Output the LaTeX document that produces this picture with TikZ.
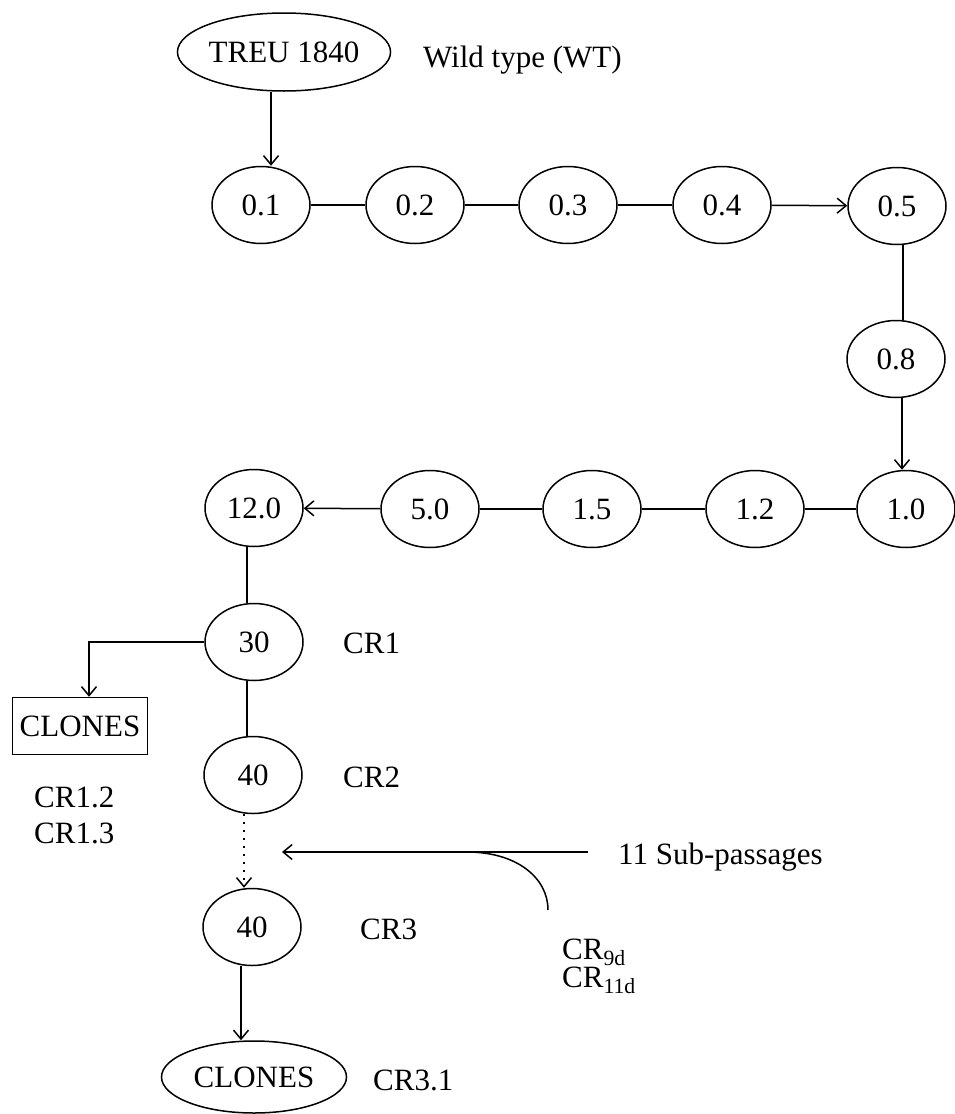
\documentclass[tikz,border=0pt]{standalone}
\usepackage{fontspec}
\setmainfont{Liberation Serif}
\usetikzlibrary{shapes.geometric,arrows.meta}
\begin{document}
\begin{tikzpicture}[x=1pt,y=-1pt,
  every node/.style={font=\fontsize{31}{36}\selectfont},
  oval/.style={draw,ellipse,line width=1.5pt,inner sep=0pt,minimum width=98pt,minimum height=77pt},
  lbl/.style={anchor=west,inner sep=0pt,text height=22pt,text depth=7pt},
  conn/.style={line width=1.5pt},
  arr/.style={line width=1.5pt,-{Straight Barb[length=9pt,width=15pt,line width=1.5pt]}}]
\useasboundingbox (0,0) rectangle (954,1114);
% top
\node[oval,minimum width=207pt,minimum height=78pt] (treu) at (284,52) {TREU 1840};
\node[lbl] (wt) at (423,60) {Wild type (WT)};
% row 1
\node[oval] (n01) at (261,205) {0.1};
\node[oval] (n02) at (415,205) {0.2};
\node[oval] (n03) at (568,205) {0.3};
\node[oval] (n04) at (722,205) {0.4};
\node[oval] (n05) at (897,206) {0.5};
\node[oval] (n08) at (896,359) {0.8};
% row 2
\node[oval] (n10) at (906,509) {1.0};
\node[oval] (n12) at (755,509) {1.2};
\node[oval] (n15) at (592,509) {1.5};
\node[oval] (n50) at (430,509) {5.0};
\node[oval] (n120) at (254,508) {12.0};
% column
\node[oval] (n30) at (254,642) {30};
\node[lbl] (cr1) at (343,646) {CR1};
\node[draw,rectangle,line width=1.5pt,minimum width=135pt,minimum height=57pt,inner sep=0pt] (clbox) at (80,726) {CLONES};
\node[oval] (n40a) at (253,775) {40};
\node[lbl] (cr2) at (343,780) {CR2};
\node[lbl] (cr12) at (34,800) {CR1.2};
\node[lbl] (cr13) at (34,836) {CR1.3};
\node[oval] (n40b) at (252,927) {40};
\node[lbl] (cr3) at (360,932) {CR3};
\node[oval,minimum width=185pt,minimum height=72pt] (clell) at (254,1077) {CLONES};
\node[lbl] (cr31) at (373,1083) {CR3.1};
% sub-passages
\node[lbl] (sub) at (618,857) {11 Sub-passages};
\node[lbl] (cr9) at (562,952) {CR\textsubscript{9d}};
\node[lbl] (cr11) at (562,980) {CR\textsubscript{11d}};
\coordinate (subR) at (588,852);
\coordinate (subL) at (282,852);
\coordinate (cs) at (467,852);
\coordinate (ce) at (548,910);
% connectors
\draw[arr] (treu.south -| 271,0) -- (n01.north -| 271,0);
\draw[conn] (n01) -- (n02);
\draw[conn] (n02) -- (n03);
\draw[conn] (n03) -- (n04);
\draw[arr] (n04) -- (n05);
\draw[conn] (n05.south -| 903,0) -- (n08.north -| 903,0);
\draw[arr] (n08.south -| 902,0) -- (n10.north -| 902,0);
\draw[conn] (n10) -- (n12);
\draw[conn] (n12) -- (n15);
\draw[conn] (n15) -- (n50);
\draw[arr] (n50) -- (n120);
\draw[conn] (n120.south -| 247,0) -- (n30.north -| 247,0);
\draw[arr] (n30.west) -| ([xshift=9pt]clbox.north);
\draw[conn] (n30.south -| 247,0) -- (n40a.north -| 247,0);
\draw[arr,dash pattern=on 2pt off 6pt] (n40a.south -| 244,0) -- (n40b.north -| 244,0);
\draw[arr] (n40b.south -| 241,0) -- (clell.north -| 241,0);
\draw[arr] (subR) -- (subL);
\draw[conn] (cs) .. controls (517,852) and (548,878) .. (ce);
\end{tikzpicture}
\end{document}
